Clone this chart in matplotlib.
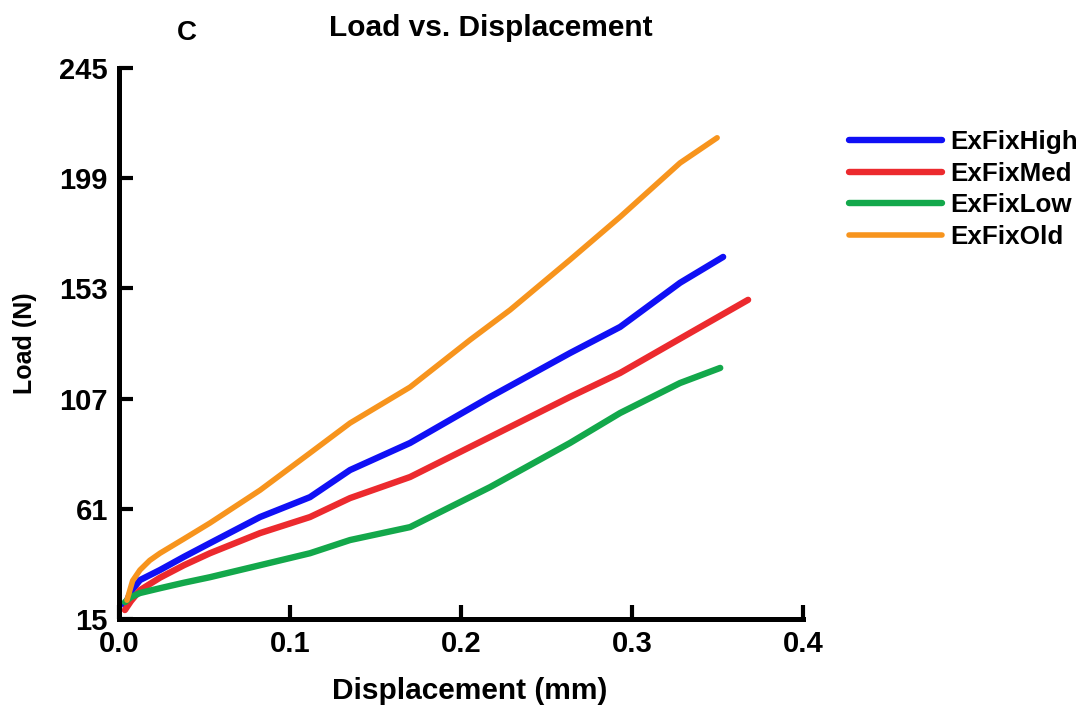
import matplotlib
matplotlib.use('Agg')
import matplotlib.pyplot as plt

plt.rcParams['font.family'] = ['Liberation Sans', 'DejaVu Sans']
plt.rcParams['font.weight'] = 'bold'

# values (displacement mm, load N)
high_x = [0.0035, 0.007, 0.0123, 0.024, 0.038, 0.0532, 0.0825, 0.1117, 0.1351, 0.1702, 0.2170, 0.2637, 0.293, 0.328, 0.3532]
high_y = [20.8, 26.5, 31.3, 35.5, 41.0, 46.7, 57.6, 65.9, 77.2, 88.5, 107.7, 126.0, 136.9, 155.3, 166.1]

med_x = [0.0035, 0.007, 0.0123, 0.024, 0.038, 0.0532, 0.0825, 0.1117, 0.1351, 0.1702, 0.2170, 0.2637, 0.293, 0.3339, 0.3678]
med_y = [18.8, 22.5, 27.1, 32.3, 37.5, 42.5, 50.9, 57.6, 65.5, 74.3, 91.0, 107.7, 117.7, 134.4, 148.2]

low_x = [0.0035, 0.007, 0.0123, 0.024, 0.038, 0.0532, 0.0825, 0.1117, 0.1351, 0.1702, 0.2170, 0.2637, 0.293, 0.328, 0.3515]
low_y = [22.1, 24.2, 25.9, 27.9, 30.2, 32.5, 37.5, 42.5, 48.0, 53.4, 70.1, 88.5, 101.0, 113.5, 119.8]

old_x = [0.0047, 0.008, 0.0123, 0.018, 0.024, 0.038, 0.0532, 0.0825, 0.1117, 0.1351, 0.1702, 0.2053, 0.2287, 0.2637, 0.293, 0.328, 0.3497]
old_y = [22.9, 31.0, 35.5, 39.5, 42.5, 48.5, 55.1, 68.8, 84.3, 96.8, 111.8, 131.5, 144.0, 164.9, 182.8, 205.3, 215.8]

labels = ['ExFixHigh', 'ExFixMed', 'ExFixLow', 'ExFixOld']
colors = ['#1010f5', '#ec2a2e', '#13a84b', '#f7941d']
xticks = [0.0, 0.1, 0.2, 0.3, 0.4]
yticks = [15, 61, 107, 153, 199, 245]

fig = plt.figure(figsize=(10.81, 7.06), dpi=100)
ax = fig.add_axes([0.110, 0.123, 0.633, 0.781])

series = [(high_x, high_y), (med_x, med_y), (low_x, low_y), (old_x, old_y)]
for (xs, ys), lab, c in zip(series, labels, colors):
    lw = 4.0 if lab == 'ExFixOld' else 4.6
    ax.plot(xs, ys, color=c, lw=lw, label=lab, solid_capstyle='round', solid_joinstyle='round')

ax.set_xlim(0, 0.4)
ax.set_ylim(15, 245)
ax.set_xticks(xticks)
ax.set_xticklabels(['%.1f' % v for v in xticks])
ax.set_yticks(yticks)
ax.set_yticklabels([str(v) for v in yticks])

for s in ['top', 'right']:
    ax.spines[s].set_visible(False)
for s in ['left', 'bottom']:
    ax.spines[s].set_linewidth(3.6)
ax.tick_params(direction='in', length=10, width=3, labelsize=21, pad=8)

ax.set_xlabel('Displacement (mm)', fontsize=21.5, fontweight='bold')
ax.xaxis.set_label_coords(0.513, -0.105)
ax.set_ylabel('Load (N)', fontsize=18, fontweight='bold', labelpad=16)

fig.text(0.454, 0.961, 'Load vs. Displacement', fontsize=21.5, fontweight='bold',
         ha='center', va='center')
fig.text(0.173, 0.953, 'C', fontsize=20, fontweight='bold', ha='center', va='center')

ax.legend(loc='upper left', bbox_to_anchor=(0.785, 0.816), bbox_transform=fig.transFigure,
          frameon=False, fontsize=18.7, handlelength=3.6, handletextpad=0.3,
          labelspacing=0.3, borderaxespad=0, borderpad=0)

fig.savefig('out.png', dpi=100)
